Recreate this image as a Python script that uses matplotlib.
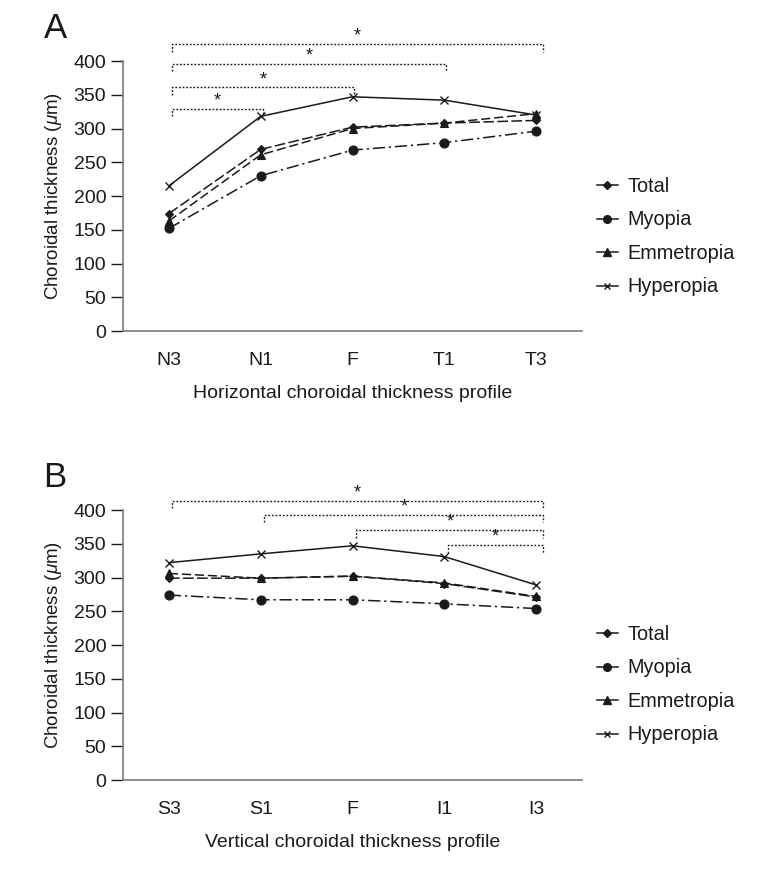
import matplotlib
matplotlib.use("Agg")
import matplotlib.pyplot as plt
from matplotlib.lines import Line2D

plt.rcParams['font.family'] = ['Liberation Sans', 'DejaVu Sans']
plt.rcParams['mathtext.fontset'] = 'custom'
plt.rcParams['mathtext.it'] = 'Liberation Sans:italic'
plt.rcParams['mathtext.rm'] = 'Liberation Sans'

# ---- data ----
series_names = ["Total", "Myopia", "Emmetropia", "Hyperopia"]

h_categories = ["N3", "N1", "F", "T1", "T3"]
h_total = [174, 269, 302, 308, 312]
h_myopia = [152, 230, 268, 279, 296]
h_emmetropia = [163, 261, 300, 308, 322]
h_hyperopia = [215, 318, 347, 342, 320]
h_sig_pairs = [(0, 1), (0, 2), (0, 3), (0, 4)]

v_categories = ["S3", "S1", "F", "I1", "I3"]
v_total = [299, 299, 302, 291, 271]
v_myopia = [274, 267, 267, 261, 254]
v_emmetropia = [306, 299, 302, 292, 272]
v_hyperopia = [322, 335, 347, 331, 289]
v_sig_pairs = [(0, 4), (1, 4), (2, 4), (3, 4)]

y_ticks = [0, 50, 100, 150, 200, 250, 300, 350, 400]

# ---- styles ----
K = '#1a1a1a'
GRAY = '#7a7a7a'
styles = {
    "Total": dict(marker='D', ms=4.5, dashes=(7, 2.2)),
    "Myopia": dict(marker='o', ms=6.5, dashes=(8, 2.5, 1.5, 2.5)),
    "Emmetropia": dict(marker='^', ms=6, dashes=(6, 2.5)),
    "Hyperopia": dict(marker='x', ms=5.5, dashes=None),
}

W, H = 767, 871
fig = plt.figure(figsize=(W / 100, H / 100), dpi=100)


def px_axes(x0, y0, x1, y1):
    return fig.add_axes([x0 / W, 1 - y1 / H, (x1 - x0) / W, (y1 - y0) / H])


def draw_panel(ax, cats, data, pairs, levels, xlabel, letter, letter_y, leg_top):
    x = list(range(len(cats)))
    for name, vals in zip(series_names, data):
        st = styles[name]
        kw = dict(color=K, lw=1.1, marker=st['marker'], ms=st['ms'],
                  markeredgewidth=1.0 if st['marker'] == 'x' else 0.8,
                  markerfacecolor=K, markeredgecolor=K, zorder=3)
        line, = ax.plot(x, vals, **kw)
        if st['dashes'] is not None:
            line.set_dashes(st['dashes'])
    ax.set_xlim(-0.5, 4.5)
    ax.set_ylim(0, 400)
    ax.set_yticks(y_ticks)
    ax.set_xticks(x)
    ax.set_xticklabels(cats)
    for s in ['top', 'right']:
        ax.spines[s].set_visible(False)
    for s in ['left', 'bottom']:
        ax.spines[s].set_color(GRAY)
        ax.spines[s].set_linewidth(1.2)
    ax.tick_params(axis='x', length=0, pad=15, labelsize=14, colors=K)
    ax.tick_params(axis='y', length=9, width=1.0, pad=3, labelsize=14,
                   color=K, labelcolor=K)
    ax.set_ylabel(r'Choroidal thickness ($\mu$m)', fontsize=13.5, color=K)
    ax.yaxis.set_label_coords(-0.128, 0.5)
    ax.set_xlabel(xlabel, fontsize=14, color=K)
    ax.xaxis.set_label_coords(0.5, -0.2)

    # significance brackets
    for (a, b), yv in zip(pairs, levels):
        xa = a + 0.03 if a == 0 else a + 0.04
        xb = b + 0.08 if b == 4 else b + 0.02
        ax.plot([xa, xa, xb, xb], [yv - 11, yv, yv, yv - 11], color=K,
                lw=1.0, ls=(0, (1.3, 1.3)), clip_on=False, zorder=2)
        ax.text((xa + xb) / 2, yv - 1, '*', ha='center', va='bottom',
                fontsize=13, color=K, clip_on=False)

    fig.text(55 / W, 1 - letter_y / H, letter, fontsize=25, ha='center',
             va='center', color=K)

    handles = [Line2D([], [], color=K, lw=1.1, marker=styles[n]['marker'],
                      ms=styles[n]['ms'] * 0.85, markerfacecolor=K,
                      markeredgecolor=K) for n in series_names]
    ax.legend(handles, series_names, loc='upper left',
              bbox_to_anchor=(597 / W, 1 - leg_top / H),
              bbox_transform=fig.transFigure, frameon=False, fontsize=14.3,
              borderaxespad=0, borderpad=0, handlelength=1.05,
              handletextpad=0.5, labelspacing=0.73, labelcolor=K)


axA = px_axes(123, 61, 582, 331)
draw_panel(axA, h_categories, [h_total, h_myopia, h_emmetropia, h_hyperopia],
           h_sig_pairs, [329, 361, 396, 425],
           'Horizontal choroidal thickness profile', 'A', 29, 177)

axB = px_axes(123, 510, 582, 780)
draw_panel(axB, v_categories, [v_total, v_myopia, v_emmetropia, v_hyperopia],
           v_sig_pairs, [414, 392.6, 370, 348],
           'Vertical choroidal thickness profile', 'B', 477, 625)

fig.savefig('out.png', dpi=100)
